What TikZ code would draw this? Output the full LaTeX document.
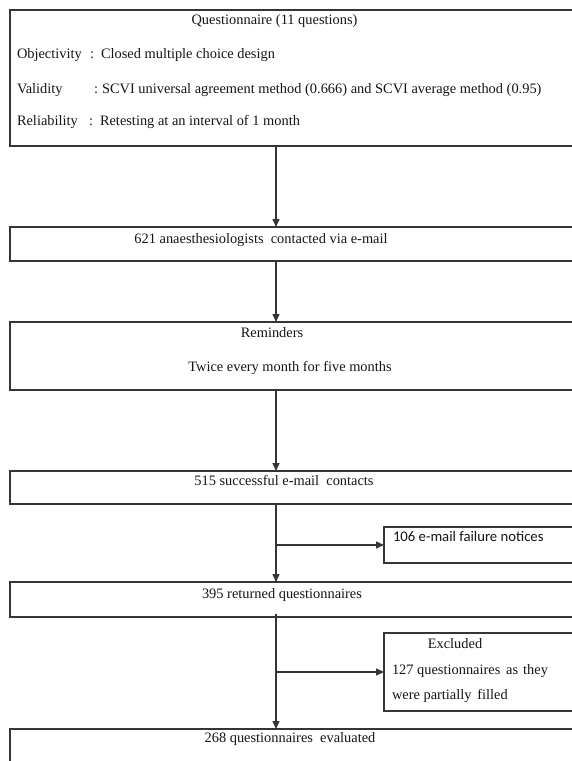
\documentclass[tikz,border=0pt]{standalone}
\usepackage{fontspec}
\setmainfont{Liberation Serif}
\newfontfamily\calibrifont{Carlito}
\usetikzlibrary{arrows.meta}
\definecolor{linegray}{HTML}{353535}
\definecolor{textblack}{HTML}{151515}
\tikzset{
  flowbox/.style={draw=linegray, line width=1.2pt, fill=none, inner sep=0pt, outer sep=0pt, anchor=north west},
  txt/.style={inner sep=0pt, outer sep=0pt, text=textblack, font=\fontsize{14.4}{17}\selectfont},
  sanstxt/.style={txt, font=\calibrifont\fontsize{14.7}{17}\selectfont},
  flowarrow/.style={draw=linegray, line width=1.4pt, -{Triangle[length=8pt,width=7pt]}},
}
\begin{document}
\begin{tikzpicture}[x=1pt,y=-1pt]
\useasboundingbox (0,0) rectangle (572,761);
\fill[white] (0,0) rectangle (572,761);
\clip (0,0) rectangle (572,761);
\coordinate (spine) at (276,0);
% boxes
\node[flowbox, minimum width=590pt, minimum height=136pt] (b1) at (10,10) {};
\node[flowbox, minimum width=590pt, minimum height=34pt] (b2) at (10,227) {};
\node[flowbox, minimum width=590pt, minimum height=68pt] (b3) at (10,322) {};
\node[flowbox, minimum width=590pt, minimum height=33pt] (b4) at (10,471) {};
\node[flowbox, minimum width=216pt, minimum height=36pt] (b5) at (384,527) {};
\node[flowbox, minimum width=590pt, minimum height=35pt] (b6) at (10,582) {};
\node[flowbox, minimum width=216pt, minimum height=78pt] (b7) at (384,633) {};
\node[flowbox, minimum width=590pt, minimum height=71pt] (b8) at (10,729) {};
% texts box 1
\node[txt, anchor=mid] (t1) at (274.5,22) {Questionnaire (11 questions)};
\node[txt, anchor=mid west] (l1) at (17,56) {Objectivity};
\node[txt, anchor=mid west] (c1) at (90,56) {:};
\node[txt, anchor=mid west] (v1) at (101,56) {Closed multiple choice design};
\node[txt, anchor=mid west] (l2) at (17,91) {Validity};
\node[txt, anchor=mid west] (c2) at (94,91) {:};
\node[txt, anchor=mid west] (v2) at (102,91) {SCVI universal agreement method (0.666) and SCVI average method (0.95)};
\node[txt, anchor=mid west] (l3) at (17,123) {Reliability};
\node[txt, anchor=mid west] (c3) at (89,123) {:};
\node[txt, anchor=mid west] (v3) at (100,123) {Retesting at an interval of 1 month};
% other texts
\node[txt, anchor=mid] (t2) at (261,241) {621 anaesthesiologists\ \ contacted via e-mail};
\node[txt, anchor=mid] (t3a) at (272,335) {Reminders};
\node[txt, anchor=mid] (t3b) at (290,369) {Twice every month for five months};
\node[txt, anchor=mid] (t4) at (284,483) {515 successful e-mail\ \ contacts};
\node[sanstxt, anchor=mid west] (t5) at (393,539) {106 e-mail failure notices};
\node[txt, anchor=mid] (t6) at (282,596) {395 returned questionnaires};
\node[txt, anchor=mid] (t7a) at (455,646) {Excluded};
\node[txt, anchor=mid west] (t7b) at (392,672) {127 questionnaires\hspace{0.15em} as\hspace{0.1em} they};
\node[txt, anchor=mid west] (t7c) at (392,697) {were partially\hspace{0.15em} filled};
\node[txt, anchor=mid] (t8) at (290,740) {268 questionnaires\ \ evaluated};
% connectors
\draw[flowarrow] (b1.south -| spine) -- (b2.north -| spine);
\draw[flowarrow] (b2.south -| spine) -- (b3.north -| spine);
\draw[flowarrow] (b3.south -| spine) -- (b4.north -| spine);
\draw[flowarrow] (b4.south -| spine) -- (b6.north -| spine);
\draw[flowarrow] (spine |- b5.west) -- (b5.west);
\draw[flowarrow] ([yshift=3pt]b6.south -| spine) -- (b8.north -| spine);
\draw[flowarrow] (spine |- b7.west) -- (b7.west);
\end{tikzpicture}
\end{document}
